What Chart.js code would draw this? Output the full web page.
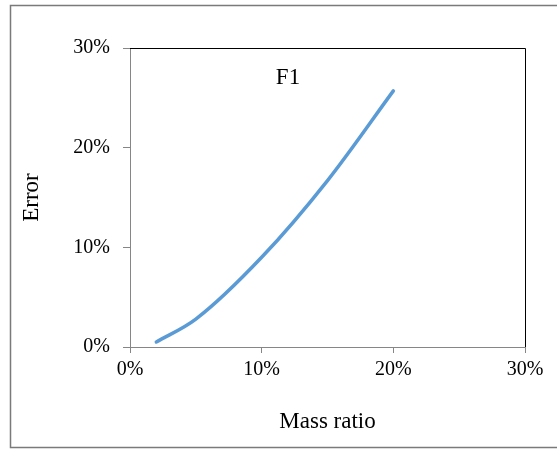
<!DOCTYPE html>
<html>
<head>
<meta charset="utf-8">
<script src="https://cdn.jsdelivr.net/npm/chart.js@4/dist/chart.umd.min.js"></script>
<style>
    html, body { margin: 0; padding: 0; background: #fff; }
    #wrap { width: 557px; height: 450px; }
</style>
</head>
<body>
<div id="wrap"><canvas id="chart" width="557" height="450"></canvas></div>
<script>
// data (percent)
const massRatio = [2, 5, 10, 15, 20];
const errorValues = [0.5, 2.8, 9.0, 16.7, 25.7];
const xTicks = [0, 10, 20, 30];
const yTicks = [0, 10, 20, 30];
const seriesName = 'F1';
const xTitle = 'Mass ratio';
const yTitle = 'Error';

const serif = "'Liberation Serif', 'Times New Roman', serif";
const axisGrey = '#868686';

// outer frame + black top/right edges of the plot area
const frame = {
    id: 'frame',
    beforeDraw(chart) {
        const ctx = chart.ctx;
        ctx.save();
        ctx.fillStyle = '#fff';
        ctx.fillRect(0, 0, chart.width, chart.height);
        ctx.strokeStyle = '#7a7a7a';
        ctx.lineWidth = 1.5;
        ctx.strokeRect(10.5, 5.5, 700, 442);
        ctx.restore();
    },
    afterDatasetsDraw(chart) {
        const { ctx, chartArea: a } = chart;
        ctx.save();
        ctx.strokeStyle = '#000';
        ctx.lineWidth = 1;
        ctx.beginPath();
        ctx.moveTo(a.left, a.top + 0.5);
        ctx.lineTo(a.right + 0.5, a.top + 0.5);
        ctx.lineTo(a.right + 0.5, a.bottom);
        ctx.stroke();
        // series label inside the plot
        ctx.fillStyle = '#000';
        ctx.font = '23px ' + serif;
        ctx.textAlign = 'center';
        ctx.textBaseline = 'middle';
        ctx.fillText(seriesName, a.left + a.width * 0.4, a.top + 30);
        ctx.restore();
    },
};

const pct = (v) => v + '%';

new Chart(document.getElementById('chart'), {
    type: 'scatter',
    data: {
        datasets: [{
            label: seriesName,
            data: massRatio.map((x, i) => ({ x, y: errorValues[i] })),
            showLine: true,
            borderColor: '#5B9BD5',
            borderWidth: 3.5,
            pointRadius: 0,
            tension: 0.4,
            cubicInterpolationMode: 'monotone',
            borderCapStyle: 'round',
        }],
    },
    options: {
        responsive: false,
        animation: false,
        layout: { padding: { left: 10, top: 48, right: 32, bottom: 0 } },
        plugins: { legend: { display: false }, tooltip: { enabled: false } },
        scales: {
            x: {
                type: 'linear',
                min: 0,
                max: 30,
                afterBuildTicks: (s) => { s.ticks = xTicks.map((v) => ({ value: v })); },
                afterFit: (s) => { s.height = 103; },
                ticks: {
                    callback: pct,
                    color: '#000',
                    font: { family: serif, size: 20 },
                    padding: 5,
                    maxRotation: 0,
                },
                grid: { display: true, drawOnChartArea: false, drawTicks: true, tickLength: 6, color: axisGrey },
                border: { display: true, color: axisGrey, width: 1 },
                title: {
                    display: true,
                    text: xTitle,
                    color: '#000',
                    font: { family: serif, size: 23 },
                    padding: { top: 14, bottom: 14 },
                },
            },
            y: {
                type: 'linear',
                min: 0,
                max: 30,
                afterBuildTicks: (s) => { s.ticks = yTicks.map((v) => ({ value: v })); },
                afterFit: (s) => { s.width = 120; },
                ticks: {
                    callback: pct,
                    color: '#000',
                    font: { family: serif, size: 20 },
                    padding: 13,
                },
                grid: { display: true, drawOnChartArea: false, drawTicks: true, tickLength: 7, color: axisGrey },
                border: { display: true, color: axisGrey, width: 1 },
                title: {
                    display: true,
                    text: yTitle,
                    color: '#000',
                    font: { family: serif, size: 23 },
                    padding: { top: 8, bottom: 8 },
                },
            },
        },
    },
    plugins: [frame],
});
</script>
</body>
</html>
